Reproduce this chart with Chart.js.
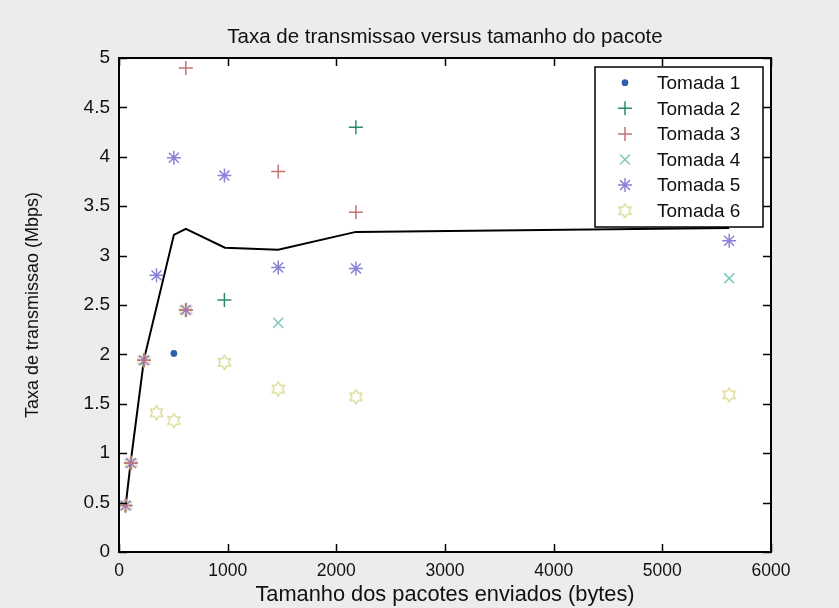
<!DOCTYPE html>
<html lang="pt">
<head>
<meta charset="UTF-8">
<title>Taxa de transmissao versus tamanho do pacote</title>
<script src="https://cdn.jsdelivr.net/npm/chart.js"></script>
<style>
    body {
        margin: 0;
        background: #ececec;
    }
    canvas {
        display: block;
    }
</style>
</head>
<body>
<canvas id="taxaChart" width="839" height="608"></canvas>
<script>
    // tamanho do pacote (bytes) e taxa medida (Mbps) de cada tomada
    const tomada1Tam = [505];
    const tomada1Taxa = [2.01];
    const tomada2Tam = [970, 2180];
    const tomada2Taxa = [2.55, 4.30];
    const tomada3Tam = [60, 110, 230, 615, 615, 1465, 2180];
    const tomada3Taxa = [0.47, 0.9, 1.94, 4.90, 2.45, 3.85, 3.44];
    const tomada4Tam = [1465, 5615];
    const tomada4Taxa = [2.32, 2.77];
    const tomada5Tam = [60, 110, 230, 345, 505, 615, 970, 1465, 2180, 5615];
    const tomada5Taxa = [0.47, 0.9, 1.94, 2.80, 3.99, 2.45, 3.81, 2.88, 2.87, 3.15];
    const tomada6Tam = [60, 110, 230, 345, 505, 615, 970, 1465, 2180, 5615];
    const tomada6Taxa = [0.47, 0.9, 1.94, 1.41, 1.33, 2.45, 1.92, 1.65, 1.57, 1.59];

    // curva media
    const mediaTam = [60, 110, 230, 505, 615, 975, 1465, 2180, 5615];
    const mediaTaxa = [0.46, 0.93, 1.95, 3.21, 3.27, 3.08, 3.06, 3.24, 3.28];

    const xTicks = [0, 1000, 2000, 3000, 4000, 5000, 6000];
    const yTicks = [0, 0.5, 1, 1.5, 2, 2.5, 3, 3.5, 4, 4.5, 5];

    const nomes = ['Tomada 1', 'Tomada 2', 'Tomada 3', 'Tomada 4', 'Tomada 5', 'Tomada 6'];

    function pares(xs, ys) {
        return xs.map((x, i) => ({ x: x, y: ys[i] }));
    }

    // marcador hexagrama (estrela de 6 pontas vazada)
    function hexagrama(cor) {
        const c = document.createElement('canvas');
        c.width = 17;
        c.height = 17;
        const g = c.getContext('2d');
        g.strokeStyle = cor;
        g.lineWidth = 1.3;
        g.beginPath();
        for (let i = 0; i < 12; i++) {
            const r = i % 2 === 0 ? 7 : 4.1;
            const a = -Math.PI / 2 + i * Math.PI / 6;
            const px = 8.5 + r * Math.cos(a);
            const py = 8.5 + r * Math.sin(a);
            if (i === 0) g.moveTo(px, py); else g.lineTo(px, py);
        }
        g.closePath();
        g.stroke();
        return c;
    }

    const estilos = [
        { cor: '#2f5fae', ponto: 'circle', raio: 2.6, fill: true },
        { cor: '#2a8a6c', ponto: 'cross', raio: 7 },
        { cor: '#c77272', ponto: 'cross', raio: 7 },
        { cor: '#7ec6bf', ponto: 'crossRot', raio: 7 },
        { cor: '#8a82d4', ponto: 'star', raio: 7 },
        { cor: '#d9d78e', ponto: hexagrama('#d9d78e'), raio: 8 }
    ];

    const series = [
        pares(tomada1Tam, tomada1Taxa),
        pares(tomada2Tam, tomada2Taxa),
        pares(tomada3Tam, tomada3Taxa),
        pares(tomada4Tam, tomada4Taxa),
        pares(tomada5Tam, tomada5Taxa),
        pares(tomada6Tam, tomada6Taxa)
    ];

    const datasets = series.map((dados, i) => ({
        type: 'scatter',
        label: nomes[i],
        data: dados,
        pointStyle: estilos[i].ponto,
        pointRadius: estilos[i].raio,
        pointHoverRadius: estilos[i].raio,
        borderColor: estilos[i].cor,
        backgroundColor: estilos[i].fill ? estilos[i].cor : 'transparent',
        borderWidth: 1.5
    }));

    datasets.push({
        type: 'line',
        label: '',
        data: pares(mediaTam, mediaTaxa),
        borderColor: '#000',
        borderWidth: 2,
        pointRadius: 0,
        fill: false,
        tension: 0
    });

    // fundo branco da area do grafico
    const fundoArea = {
        id: 'fundoArea',
        beforeDraw(chart) {
            const a = chart.chartArea;
            const ctx = chart.ctx;
            ctx.save();
            ctx.fillStyle = '#ffffff';
            ctx.fillRect(a.left, a.top, a.right - a.left, a.bottom - a.top);
            ctx.restore();
        }
    };

    // legenda dentro da area, canto superior direito
    const legendaCaixa = {
        id: 'legendaCaixa',
        afterDatasetsDraw(chart) {
            const ctx = chart.ctx;
            const a = chart.chartArea;
            const w = 168, h = 160, rowH = 25.6;
            const left = a.right - 8 - w;
            const top = a.top + 9;
            ctx.save();
            ctx.fillStyle = '#ffffff';
            ctx.fillRect(left, top, w, h);
            ctx.strokeStyle = '#000';
            ctx.lineWidth = 1.5;
            ctx.strokeRect(left, top, w, h);
            ctx.font = '19px "Liberation Sans", Arial, sans-serif';
            ctx.textBaseline = 'middle';
            ctx.textAlign = 'left';
            nomes.forEach((nome, i) => {
                const ds = chart.data.datasets[i];
                const cy = top + 15.7 + i * rowH;
                ctx.strokeStyle = ds.borderColor;
                ctx.fillStyle = ds.backgroundColor;
                ctx.lineWidth = ds.borderWidth;
                Chart.helpers.drawPoint(ctx, {
                    pointStyle: ds.pointStyle,
                    radius: ds.pointRadius,
                    rotation: 0,
                    borderWidth: ds.borderWidth
                }, left + 30, cy);
                ctx.fillStyle = '#111';
                ctx.fillText(nome, left + 62, cy + 1);
            });
            ctx.restore();
        }
    };

    // moldura com marcas de escala para dentro
    const moldura = {
        id: 'moldura',
        afterDraw(chart) {
            const ctx = chart.ctx;
            const a = chart.chartArea;
            const sx = chart.scales.x, sy = chart.scales.y;
            ctx.save();
            ctx.strokeStyle = '#000';
            ctx.lineWidth = 1.5;
            ctx.beginPath();
            sx.ticks.forEach(t => {
                const px = Math.round(sx.getPixelForValue(t.value)) + 0.5;
                ctx.moveTo(px, a.bottom); ctx.lineTo(px, a.bottom - 8);
                ctx.moveTo(px, a.top); ctx.lineTo(px, a.top + 8);
            });
            sy.ticks.forEach(t => {
                const py = Math.round(sy.getPixelForValue(t.value)) + 0.5;
                ctx.moveTo(a.left, py); ctx.lineTo(a.left + 8, py);
                ctx.moveTo(a.right, py); ctx.lineTo(a.right - 8, py);
            });
            ctx.stroke();
            ctx.lineWidth = 2;
            ctx.strokeRect(a.left, a.top, a.right - a.left, a.bottom - a.top);
            ctx.restore();
        }
    };

    Chart.defaults.font.family = '"Liberation Sans", Arial, sans-serif';
    Chart.defaults.color = '#111';

    new Chart(document.getElementById('taxaChart'), {
        data: { datasets: datasets },
        options: {
            responsive: false,
            animation: false,
            layout: { padding: { left: 0, right: 68, top: 0, bottom: 0 } },
            plugins: {
                legend: { display: false },
                tooltip: { enabled: false },
                title: {
                    display: true,
                    fullSize: false,
                    text: 'Taxa de transmissao versus tamanho do pacote',
                    font: { size: 20.5, weight: 'normal' },
                    color: '#111',
                    padding: { top: 25, bottom: 8.4 }
                }
            },
            scales: {
                x: {
                    type: 'linear',
                    min: 0,
                    max: 6000,
                    grid: { display: false },
                    border: { display: false },
                    afterBuildTicks: s => { s.ticks = xTicks.map(v => ({ value: v })); },
                    afterFit: s => { s.height = 56; },
                    ticks: {
                        font: { size: 17.5 },
                        padding: 1,
                        maxRotation: 0,
                        callback: v => String(v)
                    },
                    title: {
                        display: true,
                        text: 'Tamanho dos pacotes enviados (bytes)',
                        font: { size: 21.8 },
                        padding: { top: 0, bottom: 0 }
                    }
                },
                y: {
                    type: 'linear',
                    min: 0,
                    max: 5,
                    grid: { display: false },
                    border: { display: false },
                    afterBuildTicks: s => { s.ticks = yTicks.map(v => ({ value: v })); },
                    afterFit: s => { s.width = 119; },
                    ticks: {
                        font: { size: 19 },
                        padding: 1,
                        callback: v => String(v)
                    },
                    title: {
                        display: true,
                        text: 'Taxa de transmissao (Mbps)',
                        font: { size: 18 },
                        padding: { top: 22, bottom: 0 }
                    }
                }
            }
        },
        plugins: [fundoArea, legendaCaixa, moldura]
    });
</script>
</body>
</html>
